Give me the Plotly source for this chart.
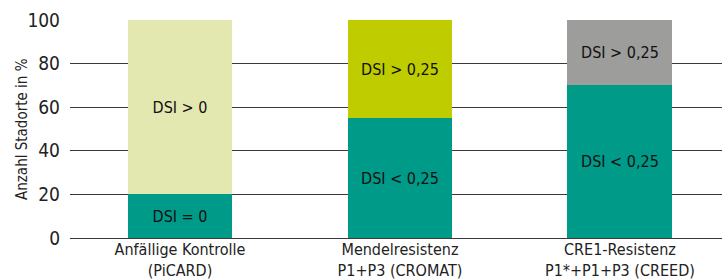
import plotly.graph_objects as go

categories = ["Anfällige Kontrolle<br>(PiCARD)", "Mendelresistenz<br>P1+P3 (CROMAT)", "CRE1-Resistenz<br>P1*+P1+P3 (CREED)"]
bottom_values = [20, 55, 70]
top_values = [80, 45, 30]
bottom_labels = ["DSI = 0", "DSI < 0,25", "DSI < 0,25"]
top_labels = ["DSI > 0", "DSI > 0,25", "DSI > 0,25"]
bottom_colors = ["#009A88", "#009A88", "#009A88"]
top_colors = ["#E3E8B0", "#BFCC00", "#9D9D9C"]
y_ticks = [0, 20, 40, 60, 80, 100]

FONT = "DejaVu Sans Condensed, Liberation Sans Narrow, sans-serif"
xpos = list(range(len(categories)))

fig = go.Figure()
fig.add_trace(go.Bar(x=xpos, y=bottom_values, marker=dict(color=bottom_colors, line=dict(width=0)),
                     text=bottom_labels, textposition="inside", insidetextanchor="middle",
                     textfont=dict(size=16, color="#111111", family=FONT), width=0.477))
fig.add_trace(go.Bar(x=xpos, y=top_values, marker=dict(color=top_colors, line=dict(width=0)),
                     text=top_labels, textposition="inside", insidetextanchor="middle",
                     textfont=dict(size=16, color="#111111", family=FONT), width=0.477))

fig.update_layout(
    barmode="stack",
    width=722, height=280,
    margin=dict(l=70, r=0, t=20, b=42, autoexpand=False),
    plot_bgcolor="white", paper_bgcolor="white",
    showlegend=False,
    font=dict(family=FONT, color="#222222"),
    uniformtext=dict(minsize=8, mode="show"),
    annotations=[dict(text="Anzahl Stadorte in %", xref="paper", yref="paper", x=0, y=0.5,
                      xanchor="center", yanchor="middle", xshift=-48, textangle=-90, showarrow=False,
                      font=dict(size=15, family=FONT, color="#222222"))],
)
fig.update_xaxes(
    range=[-0.5, 2.464], tickvals=xpos, ticktext=categories,
    showgrid=False, zeroline=False, showline=False, ticks="", automargin=False,
    tickfont=dict(size=16, family=FONT, color="#222222"),
)
fig.update_yaxes(
    range=[0, 100], tickvals=y_ticks, showgrid=True, gridcolor="#3a3a3a", gridwidth=1.2,
    zeroline=True, zerolinecolor="#3a3a3a", zerolinewidth=1.2, showline=False, ticks="",
    ticklabelstandoff=9, automargin=False,
    tickfont=dict(size=19, family=FONT, color="#222222"),
)
fig.write_html("out.html", config={"displayModeBar": False},
               post_script="document.body.style.margin='0';document.body.style.overflow='hidden';")
